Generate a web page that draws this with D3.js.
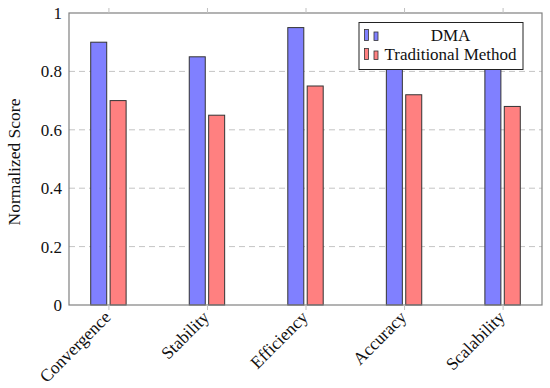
<!DOCTYPE html>
<html>
<head>
<meta charset="utf-8">
<script src="https://cdn.jsdelivr.net/npm/d3@7"></script>
<style>
  body { margin: 0; background: #fff; }
  text { font-family: "Liberation Serif", "DejaVu Serif", serif; fill: #111; }
</style>
</head>
<body>
<svg id="chart" width="550" height="388"></svg>
<script>
// 数据
var categories = ["Convergence", "Stability", "Efficiency", "Accuracy", "Scalability"]
var dmaValues = [0.9, 0.85, 0.95, 0.92, 0.88]
var tradValues = [0.7, 0.65, 0.75, 0.72, 0.68]
var seriesNames = ["DMA", "Traditional Method"]
var yTicks = [0, 0.2, 0.4, 0.6, 0.8, 1]

var W = 550, H = 388
var margin = { left: 69, right: 8, top: 13, bottom: 83 }
var pw = W - margin.left - margin.right
var ph = H - margin.top - margin.bottom
var fs = 17

var svg = d3.select("#chart")
var g = svg.append("g")
           .attr("transform", "translate(" + margin.left + "," + margin.top + ")")

// 比例尺
var x = d3.scalePoint()
          .domain(categories)
          .range([0, pw])
          .padding(0.4)
var y = d3.scaleLinear()
          .domain([0, 1])
          .range([ph, 0])

var barW = 16
var offset = 9.7

// 网格线
g.selectAll(".grid")
 .data(yTicks.filter(function (d) { return d > 0 && d < 1 }))
 .enter().append("line")
 .attr("x1", 0)
 .attr("x2", pw)
 .attr("y1", function (d) { return y(d) })
 .attr("y2", function (d) { return y(d) })
 .attr("stroke", "#c4c4c4")
 .attr("stroke-width", 1)
 .attr("stroke-dasharray", "6,4")

// 柱子
var series = [
  { name: seriesNames[0], values: dmaValues, fill: "#8080ff", dx: -offset },
  { name: seriesNames[1], values: tradValues, fill: "#ff8080", dx: offset }
]
series.forEach(function (s) {
  g.selectAll(null)
   .data(s.values)
   .enter().append("rect")
   .attr("x", function (d, i) { return x(categories[i]) + s.dx - barW / 2 })
   .attr("y", function (d) { return y(d) })
   .attr("width", barW)
   .attr("height", function (d) { return ph - y(d) })
   .attr("fill", s.fill)
   .attr("stroke", "#333")
   .attr("stroke-width", 1)
})

// 坐标轴框
g.append("rect")
 .attr("x", 0).attr("y", 0)
 .attr("width", pw).attr("height", ph)
 .attr("fill", "none")
 .attr("stroke", "#808080")
 .attr("stroke-width", 1.2)

// x 轴刻度（上下外侧）
var xAxisB = d3.axisBottom(x).tickSize(5).tickSizeOuter(0).tickFormat("")
var xAxisT = d3.axisTop(x).tickSize(5).tickSizeOuter(0).tickFormat("")
g.append("g").attr("transform", "translate(0," + ph + ")").call(xAxisB)
g.append("g").call(xAxisT)
g.selectAll(".domain").remove()
g.selectAll(".tick line").attr("stroke", "#c0c0c0")

// x 轴标签
g.selectAll(".xlabel")
 .data(categories)
 .enter().append("text")
 .attr("transform", function (d) { return "translate(" + (x(d) - 1) + "," + (ph + 9) + ") rotate(-45)" })
 .attr("text-anchor", "end")
 .attr("dy", "0.35em")
 .attr("font-size", fs + 0.5)
 .text(function (d) { return d })

// y 轴标签
var yAxis = d3.axisLeft(y).tickValues(yTicks).tickSize(0).tickPadding(7)
              .tickFormat(function (d) { return d === 0 || d === 1 ? d3.format("d")(d) : d3.format(".1f")(d) })
var ya = g.append("g").call(yAxis)
ya.select(".domain").remove()
ya.selectAll("text").attr("font-size", fs).attr("font-family", "Liberation Serif, serif").attr("fill", "#111")

svg.append("text")
   .attr("transform", "translate(14," + (margin.top + ph / 2 + 3) + ") rotate(-90)")
   .attr("text-anchor", "middle")
   .attr("dy", "0.35em")
   .attr("font-size", fs + 0.5)
   .text("Normalized Score")

// 图例
var lg = svg.append("g").attr("transform", "translate(359,22.5)")
lg.append("rect")
  .attr("width", 164).attr("height", 47)
  .attr("fill", "#fff")
  .attr("stroke", "#222")
  .attr("stroke-width", 1)
series.forEach(function (s, i) {
  var row = lg.append("g").attr("transform", "translate(0," + (13 + i * 19) + ")")
  row.append("rect").attr("x", 5.5).attr("y", -6).attr("width", 4).attr("height", 11)
     .attr("fill", s.fill).attr("stroke", "#333").attr("stroke-width", 0.8)
  row.append("rect").attr("x", 15).attr("y", -3.5).attr("width", 4).attr("height", 8.5)
     .attr("fill", s.fill).attr("stroke", "#333").attr("stroke-width", 0.8)
  row.append("text")
     .attr("x", 91.5).attr("y", 0)
     .attr("dy", "0.35em")
     .attr("text-anchor", "middle")
     .attr("font-size", fs)
     .text(s.name)
})
</script>
</body>
</html>
